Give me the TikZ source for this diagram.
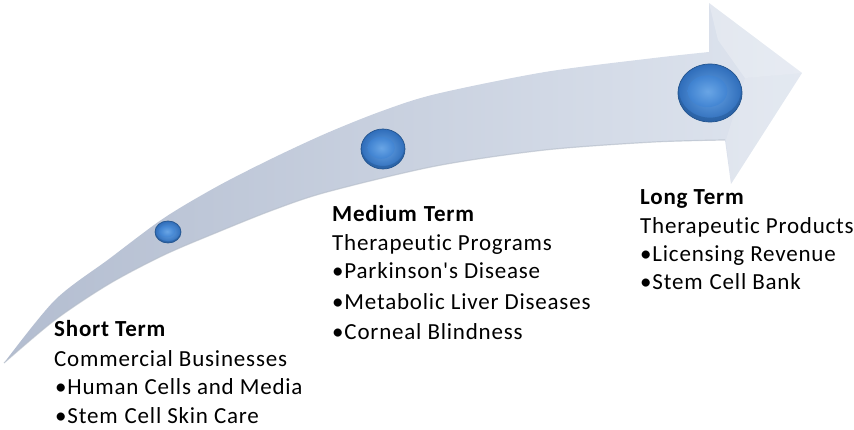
\documentclass[tikz,border=0pt]{standalone}
\usepackage{fontspec}
\newfontfamily\calfont{Carlito}[LetterSpace=3.5, Ligatures={NoCommon}]
\usetikzlibrary{shapes.geometric}
\definecolor{shaftdark}{HTML}{B3BDD0}
\definecolor{shaftlight}{HTML}{DFE5EF}
\definecolor{shaftedge}{HTML}{B4BCC8}
\definecolor{balldark}{HTML}{24558F}
\definecolor{ballouter}{HTML}{2F6DBA}
\definecolor{ballmid}{HTML}{3F83D3}
\definecolor{balllight}{HTML}{6AA6E6}
\tikzset{
  txt/.style={anchor=base west, inner sep=0pt, font=\calfont\fontsize{23}{28}\selectfont},
  head/.style={txt, font=\calfont\bfseries\fontsize{23}{28}\selectfont},
}
\newcommand{\widegap}{\hspace{0.3em}}
\newcommand{\cellball}[4]{% x, y, rx, ry
  \shade[inner color=balllight, outer color=ballouter]
    (#1,#2) ellipse [x radius=#3, y radius=#4];
  \shade[inner color=balllight, outer color=ballmid, opacity=0.8]
    (#1-0.08*#3,#2-0.06*#4) ellipse [x radius=0.62*#3, y radius=0.55*#4];
  % darker lower rim
  \begin{scope}
    \clip (#1,#2) ellipse [x radius=#3, y radius=#4];
    \fill[balldark, opacity=0.45, even odd rule]
      (#1,#2) ellipse [x radius=#3, y radius=#4]
      (#1,#2-0.1*#4) ellipse [x radius=0.97*#3, y radius=0.95*#4];
  \end{scope}
  \draw[balldark, line width=0.7pt] (#1,#2) ellipse [x radius=#3, y radius=#4];
}
\begin{document}
\begin{tikzpicture}[x=1pt,y=-1pt]
\useasboundingbox (0,0) rectangle (854,430);

% curved arrow body
\shade[left color=shaftdark, right color=shaftlight]
  plot[smooth] coordinates {(4,363) (55,300) (109,259) (164,218) (218,186) (273,158)
     (327,133) (382,111) (436,94) (545,72) (654,58) (709,52)}
  -- (709,3) -- (802,73) -- (731,184) -- (725,140)
  -- plot[smooth] coordinates {(654,142) (545,150) (436,166) (327,192) (273,210)
     (218,232) (164,255) (109,284) (55,320) (4,363)}
  -- cycle;
% soft shadow along the lower edge of the shaft
\draw[shaftedge, line width=1.2pt, opacity=0.6]
  plot[smooth] coordinates {(725,140) (654,142) (545,150) (436,166) (327,192) (273,210)
     (218,232) (164,255) (109,284) (55,320) (4,363)};
% bevel on the arrow head
\fill[white, opacity=0.25] (709,3) -- (802,73) -- (745,78) -- (718,40) -- cycle;
\fill[white, opacity=0.15] (731,184) -- (802,73) -- (745,78) -- (726,140) -- cycle;

% milestone markers
\cellball{168}{232}{13}{11}
\cellball{383}{149}{22}{20}
\cellball{710}{93}{32}{29}

% short term
\node[head] (s0) at (54,337) {Short Term};
\node[txt] (s1) at (54,366) {Commercial Businesses};
\node[txt] (s2) at (55,394) {•Human Cells and Media};
\node[txt] (s3) at (55,423) {•Stem\widegap Cell Skin Care};

% medium term
\node[head] (m0) at (332,222) {Medium\widegap Term};
\node[txt] (m1) at (332,251) {Therapeutic Programs};
\node[txt] (m2) at (332,279) {•Parkinson's Disease};
\node[txt] (m3) at (332,309) {•Metabolic Liver Diseases};
\node[txt] (m4) at (332,339) {•Corneal Blindness};

% long term
\node[head] (l0) at (640,205) {Long Term};
\node[txt] (l1) at (640,234) {Therapeutic Products};
\node[txt] (l2) at (640,262) {•Licensing Revenue};
\node[txt] (l3) at (640,290) {•Stem\widegap Cell Bank};
\end{tikzpicture}
\end{document}
